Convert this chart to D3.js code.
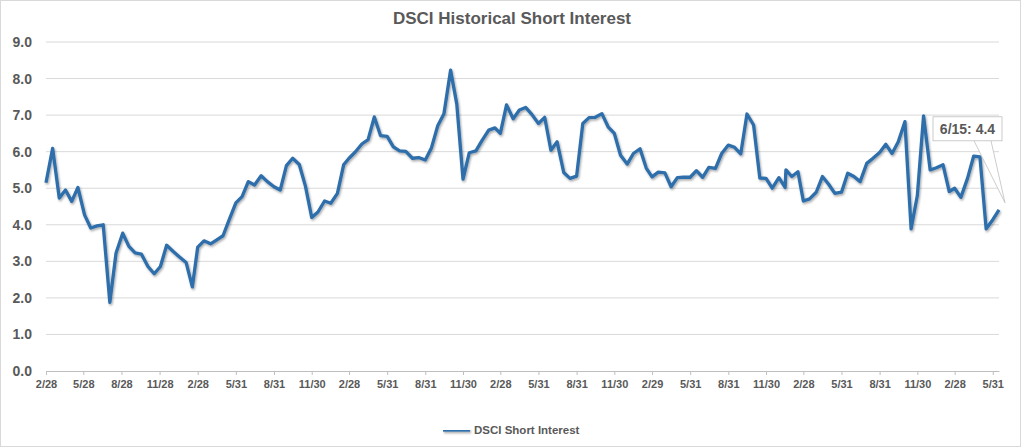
<!DOCTYPE html>
<html>
<head>
<meta charset="utf-8">
<script src="https://cdn.jsdelivr.net/npm/d3@7"></script>
<style>
  html, body { margin: 0; padding: 0; background: #fff; }
  svg { display: block; font-family: "Liberation Sans", Arial, sans-serif; }
</style>
</head>
<body>
<svg id="chart" width="1024" height="448"></svg>
<script>
const width = 1024, height = 448;
const svg = d3.select("#chart");

const chartTitle = "DSCI Historical Short Interest";
const seriesName = "DSCI Short Interest";

// settlement dates: 2/28/2016, then the 15th and month end through 6/15/2022,
// plus one extra report on 1/17/2021
const startDate = "2016-02-28";
const endDate = "2022-06-15";
const extraDates = ["2021-01-17"];

// short interest, one value per date above
const shortInterest = [
  5.15, 6.09, 4.73, 4.95, 4.64, 5.02, 4.27, 3.91, 3.97, 4.00,
  1.88, 3.23, 3.77, 3.41, 3.23, 3.20, 2.86, 2.66, 2.86, 3.44,
  3.27, 3.12, 2.97, 2.30, 3.39, 3.56, 3.48, 3.59, 3.70, 4.14,
  4.60, 4.77, 5.18, 5.09, 5.34, 5.18, 5.04, 4.95, 5.62, 5.82,
  5.65, 5.05, 4.20, 4.35, 4.65, 4.59, 4.86, 5.64, 5.82, 5.99,
  6.21, 6.33, 6.95, 6.44, 6.42, 6.13, 6.02, 6.01, 5.82, 5.84,
  5.77, 6.11, 6.71, 7.04, 8.23, 7.30, 5.25, 5.97, 6.02, 6.31,
  6.59, 6.65, 6.50, 7.28, 6.90, 7.14, 7.21, 7.02, 6.77, 6.94,
  6.04, 6.27, 5.43, 5.27, 5.33, 6.77, 6.93, 6.94, 7.04, 6.68,
  6.50, 5.90, 5.66, 5.95, 6.08, 5.55, 5.31, 5.44, 5.42, 5.04,
  5.29, 5.30, 5.30, 5.48, 5.30, 5.57, 5.54, 5.95, 6.18, 6.12,
  5.94, 7.03, 6.73, 5.28, 5.27, 5.00, 5.29, 5.02, 5.50,
  5.32, 5.45, 4.65, 4.71, 4.89, 5.32, 5.11, 4.86, 4.89, 5.41,
  5.32, 5.18, 5.68, 5.82, 5.98, 6.20, 5.95, 6.27, 6.82, 3.89,
  4.80, 6.98, 5.50, 5.56, 5.64, 4.91, 5.00, 4.75, 5.27, 5.88,
  5.86, 3.89, 4.14, 4.41
];

const tickDates = [
  "2016-02-28", "2016-05-28", "2016-08-28", "2016-11-28",
  "2017-02-28", "2017-05-31", "2017-08-31", "2017-11-30",
  "2018-02-28", "2018-05-31", "2018-08-31", "2018-11-30",
  "2019-02-28", "2019-05-31", "2019-08-31", "2019-11-30",
  "2020-02-29", "2020-05-31", "2020-08-31", "2020-11-30",
  "2021-02-28", "2021-05-31", "2021-08-31", "2021-11-30",
  "2022-02-28", "2022-05-31"
];
const yTicks = [0, 1, 2, 3, 4, 5, 6, 7, 8, 9];

const parse = d3.utcParse("%Y-%m-%d");

function settlementDates() {
  const out = [parse(startDate)];
  const end = parse(endDate);
  let m = d3.utcMonth.offset(d3.utcMonth.floor(out[0]), 1);
  while (m <= end) {
    const mid = d3.utcDay.offset(m, 14);
    const last = d3.utcDay.offset(d3.utcMonth.offset(m, 1), -1);
    if (mid <= end) out.push(mid);
    if (last <= end) out.push(last);
    m = d3.utcMonth.offset(m, 1);
  }
  extraDates.forEach(s => out.push(parse(s)));
  return out.sort((a, b) => a - b);
}

const dates = settlementDates();
const data = dates.map((d, i) => ({ date: d, value: shortInterest[i] }));

const margin = { left: 46, right: 25, top: 42, bottom: 77 };
const x = d3.scaleUtc()
  .domain([parse(startDate), parse(endDate)])
  .range([margin.left, width - margin.right]);
const y = d3.scaleLinear()
  .domain([0, 9])
  .range([height - margin.bottom, margin.top]);

const textColor = "#595959";
const lineColor = "#2e6eab";

// chart border
svg.append("rect")
  .attr("x", 0.5).attr("y", 0.5)
  .attr("width", 1020).attr("height", 446)
  .attr("fill", "#fff")
  .attr("stroke", "#d9d9d9");

// soft shadow under the line, in user space so flat lines still get it
const defs = svg.append("defs");
defs.append("filter")
  .attr("id", "shadow")
  .attr("filterUnits", "userSpaceOnUse")
  .attr("x", 0).attr("y", 0).attr("width", width).attr("height", height)
  .append("feDropShadow")
  .attr("dx", 1).attr("dy", 1.5)
  .attr("stdDeviation", 1)
  .attr("flood-color", "#000")
  .attr("flood-opacity", 0.35);

// title
svg.append("text")
  .attr("x", 512).attr("y", 24)
  .attr("text-anchor", "middle")
  .attr("font-size", "17px")
  .attr("font-weight", "bold")
  .attr("fill", textColor)
  .text(chartTitle);

// gridlines
svg.append("g")
  .selectAll("line")
  .data(yTicks.filter(t => t > 0))
  .enter()
  .append("line")
  .attr("x1", x.range()[0])
  .attr("x2", x.range()[1])
  .attr("y1", d => y(d))
  .attr("y2", d => y(d))
  .attr("stroke", "#d9d9d9")
  .attr("stroke-width", 1);

// y axis labels
const yAxis = svg.append("g")
  .attr("transform", `translate(${margin.left},0)`)
  .call(d3.axisLeft(y).tickValues(yTicks).tickFormat(d3.format(".1f")).tickSize(0).tickPadding(14));
yAxis.select(".domain").remove();
yAxis.selectAll("text")
  .attr("font-family", "Liberation Sans, Arial, sans-serif")
  .attr("font-size", "14px")
  .attr("font-weight", "bold")
  .attr("fill", textColor);

// x axis
const fmt = d3.utcFormat("%-m/%-d");
const xAxis = svg.append("g")
  .attr("transform", `translate(0,${y(0)})`)
  .call(d3.axisBottom(x).tickValues(tickDates.map(parse)).tickFormat(fmt).tickSize(4).tickPadding(5).tickSizeOuter(0));
xAxis.select(".domain").attr("stroke", "#bfbfbf").attr("stroke-width", 1.2);
xAxis.selectAll(".tick line").attr("stroke", "#bfbfbf");
xAxis.selectAll("text")
  .attr("font-family", "Liberation Sans, Arial, sans-serif")
  .attr("font-size", "11px")
  .attr("font-weight", "bold")
  .attr("fill", textColor);

// series line
const line = d3.line()
  .x(d => x(d.date))
  .y(d => y(d.value));

svg.append("path")
  .datum(data)
  .attr("d", line)
  .attr("fill", "none")
  .attr("stroke", lineColor)
  .attr("stroke-width", 3.3)
  .attr("stroke-linejoin", "round")
  .attr("filter", "url(#shadow)");

// callout for the latest value
const lastPt = data[data.length - 1];
const px = x(lastPt.date), py = y(lastPt.value);
const box = { x: px - 66, y: py - 93, w: 69, h: 24 };
const callout = svg.append("g");
callout.append("path")
  .attr("d", `M${box.x + 41},${box.y + box.h} L${px + 6},${py - 7} L${box.x + 58},${box.y + box.h}`)
  .attr("fill", "#fff")
  .attr("stroke", "#bfbfbf")
  .attr("stroke-width", 0.8);
callout.append("rect")
  .attr("x", box.x).attr("y", box.y)
  .attr("width", box.w).attr("height", box.h)
  .attr("fill", "#fff")
  .attr("stroke", "#bfbfbf")
  .attr("stroke-width", 0.8);
callout.append("text")
  .attr("x", box.x + box.w / 2)
  .attr("y", box.y + 17)
  .attr("text-anchor", "middle")
  .attr("font-size", "14px")
  .attr("font-weight", "bold")
  .attr("fill", textColor)
  .text(`${fmt(lastPt.date)}: ${lastPt.value.toFixed(1)}`);

// legend
const legend = svg.append("g").attr("transform", "translate(443,430)");
legend.append("line")
  .attr("x1", 0).attr("x2", 27)
  .attr("y1", 0).attr("y2", 0)
  .attr("stroke", lineColor)
  .attr("stroke-width", 3.3)
  .attr("filter", "url(#shadow)");
legend.append("text")
  .attr("x", 31).attr("y", 4)
  .attr("font-size", "11.5px")
  .attr("font-weight", "bold")
  .attr("fill", textColor)
  .text(seriesName);
</script>
</body>
</html>
